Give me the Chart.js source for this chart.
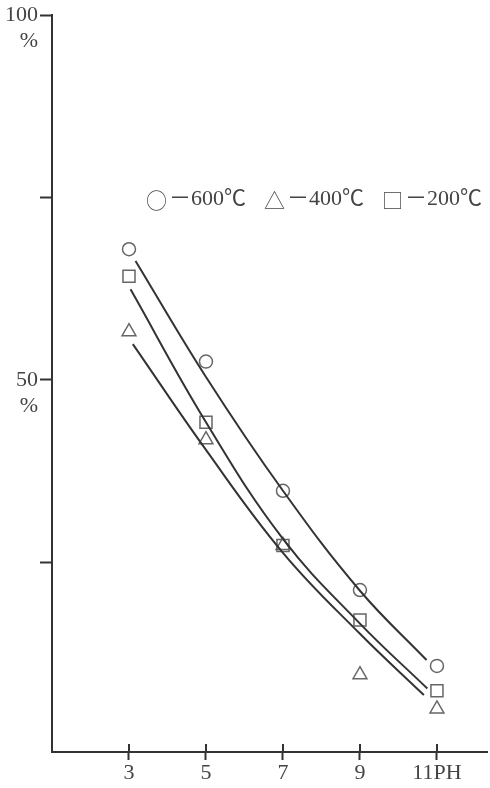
<!DOCTYPE html>
<html>
<head>
<meta charset="utf-8">
<script src="https://cdn.jsdelivr.net/npm/chart.js@4"></script>
<style>
  html, body { margin: 0; padding: 0; background: #fff; }
  canvas { display: block; }
</style>
</head>
<body>
<canvas id="chart" width="490" height="788"></canvas>
<script>
// measured points, pH on x, percentage on y
const ph = [3, 5, 7, 9, 11];
const pts600 = [67.9, 52.5, 34.8, 21.2, 10.8];
const pts400 = [56.6, 41.8, 27.3, 9.6, 4.9];
const pts200 = [64.2, 44.2, 27.3, 17.1, 7.4];

// hand drawn trend curves
const fit600X = [3.17, 5, 7, 9, 10.73];
const fit600Y = [66.3, 50.4, 34.8, 21.1, 11.6];
const fit200X = [3.04, 5, 7, 9, 10.75];
const fit200Y = [62.4, 44.2, 28.2, 16.6, 7.7];
const fit400X = [3.1, 5, 7, 9, 10.66];
const fit400Y = [54.9, 40.4, 26.3, 15.2, 6.8];

const xTicks = [3, 5, 7, 9, 11];
const xTickLabels = ['3', '5', '7', '9', '11PH'];
const yTicks = [25, 50, 75, 100];
const yTickLabels = {100: ['', '100', '%'], 50: ['', '50', '%']};

const legendMarks = ['○', '△', '□'];
const legendTexts = ['－600℃', '－400℃', '－200℃'];

const ink = '#333';
const markInk = '#666';
const font = {family: '"Liberation Serif", "Noto Sans CJK SC", serif', size: 22};

const toXY = (xs, ys) => xs.map((x, i) => ({x: x, y: ys[i]}));

const curve = (xs, ys) => ({
  type: 'line',
  data: toXY(xs, ys),
  borderColor: ink,
  borderWidth: 2,
  pointRadius: 0,
  tension: 0.4,
  fill: false
});

const marks = (ys, style, r) => ({
  type: 'scatter',
  data: toXY(ph, ys),
  pointStyle: style,
  pointRadius: r,
  borderColor: markInk,
  borderWidth: 1.5,
  backgroundColor: 'rgba(0,0,0,0)'
});

// small tick stubs above the x axis and the legend line in the plot
const extras = {
  id: 'extras',
  afterDraw(chart) {
    const ctx = chart.ctx;
    const xs = chart.scales.x;
    const area = chart.chartArea;
    ctx.save();
    ctx.strokeStyle = ink;
    ctx.lineWidth = 2;
    xTicks.forEach(v => {
      const px = Math.round(xs.getPixelForValue(v));
      ctx.beginPath();
      ctx.moveTo(px, area.bottom - 8);
      ctx.lineTo(px, area.bottom);
      ctx.stroke();
    });
    ctx.fillStyle = '#444';
    ctx.textBaseline = 'middle';
    const y = chart.scales.y.getPixelForValue(74.7);
    const starts = [146, 264, 382];
    legendMarks.forEach((m, i) => {
      ctx.font = '300 21px "Noto Sans CJK SC", sans-serif';
      ctx.fillText(m, starts[i], y);
      const w = ctx.measureText(m).width;
      ctx.font = font.size + 'px ' + font.family;
      ctx.fillText(legendTexts[i], starts[i] + w + 2, y);
    });
    ctx.restore();
  }
};

new Chart(document.getElementById('chart'), {
  data: {
    datasets: [
      curve(fit600X, fit600Y),
      curve(fit200X, fit200Y),
      curve(fit400X, fit400Y),
      marks(pts600, 'circle', 6.5),
      marks(pts400, 'triangle', 8),
      marks(pts200, 'rect', 8.5)
    ]
  },
  options: {
    responsive: false,
    animation: false,
    layout: {autoPadding: false, padding: {top: 15, right: 3, left: 0, bottom: 0}},
    plugins: {legend: {display: false}, tooltip: {enabled: false}},
    scales: {
      x: {
        type: 'linear',
        min: 1,
        max: 12.3,
        afterBuildTicks: s => { s.ticks = xTicks.map(v => ({value: v})); },
        afterFit: s => {
          s.height = 36;
          s.paddingLeft = 0;
          s.paddingRight = 0;
        },
        ticks: {
          callback: v => xTickLabels[xTicks.indexOf(v)],
          color: '#444',
          font: font,
          padding: 0,
          maxRotation: 0
        },
        grid: {drawOnChartArea: false, tickLength: 8, tickColor: ink, tickWidth: 2},
        border: {color: ink, width: 2}
      },
      y: {
        type: 'linear',
        min: -1,
        max: 100,
        afterBuildTicks: s => { s.ticks = yTicks.map(v => ({value: v})); },
        afterFit: s => {
          s.width = 52;
          s.paddingTop = 0;
          s.paddingBottom = 0;
        },
        ticks: {
          callback: v => yTickLabels[v] || '',
          color: '#444',
          font: font,
          padding: 2
        },
        grid: {drawOnChartArea: false, tickLength: 12, tickColor: ink, tickWidth: 2},
        border: {color: ink, width: 2}
      }
    }
  },
  plugins: [extras]
});
</script>
</body>
</html>
